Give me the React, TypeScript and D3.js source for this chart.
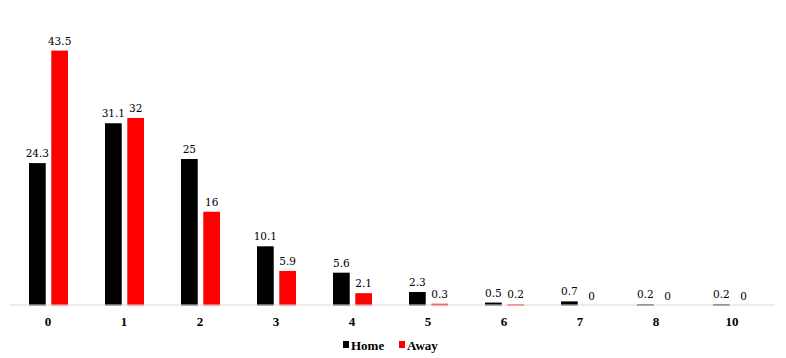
import React from "react";
import * as d3 from "d3";

const categories = ["0", "1", "2", "3", "4", "5", "6", "7", "8", "10"];
const homeValues = [24.3, 31.1, 25, 10.1, 5.6, 2.3, 0.5, 0.7, 0.2, 0.2];
const awayValues = [43.5, 32, 16, 5.9, 2.1, 0.3, 0.2, 0, 0, 0];
const seriesNames = ["Home", "Away"];
const seriesColors = ["#000000", "#ff0000"];

const W = 786;
const H = 358;
const baseY = 305.5;

export default function App() {
  const x = d3.scaleBand<string>().domain(categories).range([10, 770]).paddingInner(0).paddingOuter(0);
  const inner = d3.scaleBand<string>().domain(seriesNames).range([-19, 20]).paddingInner(0.25).paddingOuter(0);
  const y = d3.scaleLinear().domain([0, 50]).range([baseY, baseY - 293]);
  const series = [homeValues, awayValues];
  const valueFont = "Georgia, 'DejaVu Serif', serif";
  const catFont = "'Liberation Serif', 'Times New Roman', serif";

  return (
    <svg width={W} height={H} style={{ position: "absolute", left: 0, top: 0, background: "#fff" }}>
      <rect x={0} y={0} width={W} height={H} fill="#fff" />
      {categories.map((c, i) => {
        const cx = (x(c) ?? 0) + x.bandwidth() / 2;
        return (
          <g key={c}>
            {series.map((vals, s) => {
              const v = vals[i];
              const bx = cx + (inner(seriesNames[s]) ?? 0);
              const top = y(v);
              return (
                <g key={s}>
                  {v > 0 && (
                    <rect x={bx} y={top} width={inner.bandwidth()} height={baseY - top} fill={seriesColors[s]} />
                  )}
                  <text
                    x={bx + inner.bandwidth() / 2}
                    y={top - 6}
                    textAnchor="middle"
                    fontFamily={valueFont}
                    fontSize={10.5}
                    fill="#000"
                  >
                    {String(v)}
                  </text>
                </g>
              );
            })}
            <text
              x={cx}
              y={326}
              textAnchor="middle"
              fontFamily={catFont}
              fontWeight="bold"
              fontSize={13}
              fill="#000"
            >
              {c}
            </text>
          </g>
        );
      })}
      <line x1={10} x2={775} y1={305} y2={305} stroke="#d9d9d9" strokeWidth={1} />
      <g fontFamily={catFont} fontWeight="bold" fontSize={13}>
        <rect x={343} y={341} width={6} height={7} fill={seriesColors[0]} />
        <text x={351} y={350}>{seriesNames[0]}</text>
        <rect x={399} y={341} width={6} height={7} fill={seriesColors[1]} />
        <text x={407} y={350}>{seriesNames[1]}</text>
      </g>
    </svg>
  );
}
